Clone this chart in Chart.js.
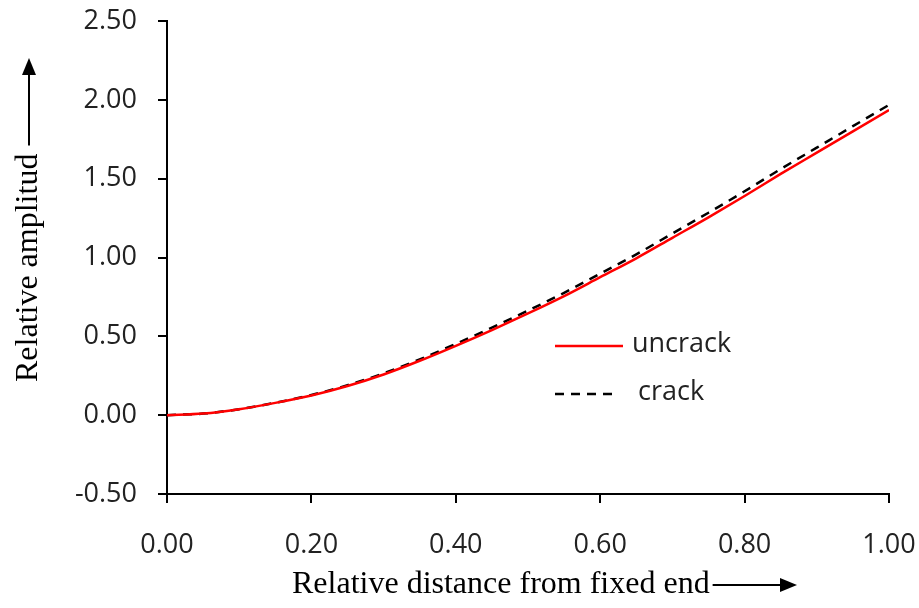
<!DOCTYPE html>
<html>
<head>
<meta charset="utf-8">
<script src="https://cdn.jsdelivr.net/npm/chart.js@4/dist/chart.umd.min.js"></script>
<style>
  html, body { margin: 0; padding: 0; background: #fff; }
  #wrap { width: 919px; height: 608px; }
</style>
</head>
<body>
<div id="wrap"><canvas id="modeChart" width="919" height="608"></canvas></div>
<script>
// relative position along the beam (0 = fixed end)
const distance = [0.00, 0.05, 0.10, 0.15, 0.20, 0.25, 0.30, 0.35, 0.40, 0.45, 0.50,
                  0.55, 0.60, 0.65, 0.70, 0.75, 0.80, 0.85, 0.90, 0.95, 1.00];
// relative amplitude, intact beam
const uncrack = [0.000, 0.010, 0.038, 0.078, 0.125, 0.185, 0.258, 0.345, 0.440, 0.540, 0.645,
                 0.755, 0.875, 0.995, 1.125, 1.255, 1.390, 1.530, 1.665, 1.800, 1.935];
// relative amplitude, cracked beam
const crack = [0.000, 0.010, 0.038, 0.079, 0.128, 0.190, 0.265, 0.354, 0.452, 0.555, 0.663,
               0.776, 0.898, 1.020, 1.152, 1.284, 1.420, 1.561, 1.697, 1.833, 1.968];

const seriesNames = ['uncrack', 'crack'];
const xTitle = 'Relative distance from fixed end';
const yTitle = 'Relative amplitud';

const TICK_FONT = { family: 'Open Sans', size: 27 };
const TITLE_FONT = '32px "Liberation Serif"';

function arrow(ctx, x1, y1, x2, y2) {
    const ang = Math.atan2(y2 - y1, x2 - x1);
    const head = 17, half = 7;
    const cos = Math.cos(ang), sin = Math.sin(ang);
    ctx.beginPath();
    ctx.moveTo(x1, y1);
    ctx.lineTo(x2 - head * cos, y2 - head * sin);
    ctx.lineWidth = 2;
    ctx.stroke();
    ctx.beginPath();
    ctx.moveTo(x2, y2);
    ctx.lineTo(x2 - head * cos - half * sin, y2 - head * sin + half * cos);
    ctx.lineTo(x2 - head * cos + half * sin, y2 - head * sin - half * cos);
    ctx.closePath();
    ctx.fill();
}

// axis titles with arrows, plus the in-plot legend
const annotations = {
    id: 'annotations',
    afterDraw(chart) {
        const { ctx, chartArea } = chart;
        ctx.save();
        ctx.fillStyle = '#000';
        ctx.strokeStyle = '#000';

        // x title
        ctx.font = TITLE_FONT;
        ctx.textBaseline = 'middle';
        ctx.textAlign = 'left';
        const xw = ctx.measureText(xTitle).width;
        const xStart = 292, xY = 585;
        ctx.fillText(xTitle, xStart, xY);
        arrow(ctx, xStart + xw + 3, xY, 797, xY);

        // y title, rotated
        const yw = ctx.measureText(yTitle).width;
        const yBottom = 382, yX = 29;
        ctx.save();
        ctx.translate(yX, yBottom);
        ctx.rotate(-Math.PI / 2);
        ctx.fillText(yTitle, 0, 0);
        ctx.restore();
        arrow(ctx, yX, yBottom - yw - 8, yX, 58);

        // legend
        const lx = chartArea.left + 388;
        const rows = [346, 394];
        const lineEnd = [623, 617];
        const textX = [632, 638];
        ctx.font = '27px "Open Sans"';
        chart.data.datasets.forEach((ds, i) => {
            ctx.save();
            ctx.strokeStyle = ds.borderColor;
            ctx.lineWidth = ds.borderWidth;
            ctx.setLineDash(ds.borderDash || []);
            ctx.beginPath();
            ctx.moveTo(lx, rows[i]);
            ctx.lineTo(lineEnd[i], rows[i]);
            ctx.stroke();
            ctx.restore();
            ctx.fillStyle = '#222';
            ctx.fillText(ds.label, textX[i], rows[i] - 2);
        });
        ctx.restore();
    }
};

new Chart(document.getElementById('modeChart'), {
    type: 'line',
    data: {
        labels: distance,
        datasets: [
            {
                label: seriesNames[0],
                data: distance.map((x, i) => ({ x, y: uncrack[i] })),
                borderColor: '#ff0000',
                borderWidth: 2.5,
                pointRadius: 0,
                cubicInterpolationMode: 'monotone'
            },
            {
                label: seriesNames[1],
                data: distance.map((x, i) => ({ x, y: crack[i] })),
                borderColor: '#000000',
                borderWidth: 2.5,
                borderDash: [9, 7],
                pointRadius: 0,
                cubicInterpolationMode: 'monotone'
            }
        ]
    },
    options: {
        responsive: false,
        animation: false,
        layout: { padding: { top: 21, right: 30, left: 0, bottom: 0 } },
        plugins: {
            legend: { display: false },
            tooltip: { enabled: false }
        },
        scales: {
            x: {
                type: 'linear',
                min: 0,
                max: 1,
                ticks: {
                    stepSize: 0.2,
                    color: '#222',
                    font: TICK_FONT,
                    padding: 26,
                    maxRotation: 0,
                    callback: v => v.toFixed(2)
                },
                grid: { drawOnChartArea: false, drawTicks: true, tickLength: 9, color: '#000', lineWidth: 2 },
                border: { color: '#000', width: 2 },
                afterFit: s => {
                    s.height = 114;
                    s.paddingLeft = 0;
                    s.paddingRight = 0;
                }
            },
            y: {
                min: -0.5,
                max: 2.5,
                ticks: {
                    stepSize: 0.5,
                    color: '#222',
                    font: TICK_FONT,
                    padding: 21,
                    callback: v => v.toFixed(2)
                },
                grid: { drawOnChartArea: false, drawTicks: true, tickLength: 9, color: '#000', lineWidth: 2 },
                border: { color: '#000', width: 2 },
                afterFit: s => {
                    s.width = 167;
                    s.paddingTop = 0;
                    s.paddingBottom = 0;
                }
            }
        }
    },
    plugins: [annotations]
});
</script>
</body>
</html>
